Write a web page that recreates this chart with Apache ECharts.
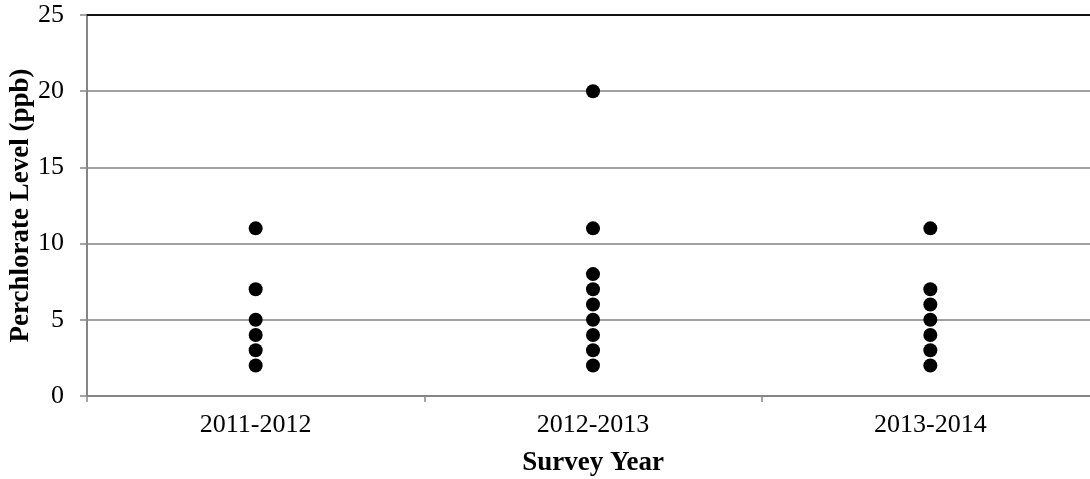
<!DOCTYPE html>
<html>
<head>
<meta charset="utf-8">
<script src="https://cdn.jsdelivr.net/npm/echarts@6/dist/echarts.min.js"></script>
<style>html,body{margin:0;padding:0;background:#fff}#c{width:1090px;height:479px}</style>
</head>
<body>
<div id="c"></div>
<script>
var categories = ['2011-2012', '2012-2013', '2013-2014'];
var values2011 = [2, 3, 4, 5, 7, 11];
var values2012 = [2, 3, 4, 5, 6, 7, 8, 11, 20];
var values2013 = [2, 3, 4, 5, 6, 7, 11];
var yTicks = [0, 5, 10, 15, 20, 25];

var groups = [values2011, values2012, values2013];
var points = [];
groups.forEach(function (arr, i) {
  arr.forEach(function (v) { points.push([categories[i], v]); });
});

var font = 'Liberation Serif, Times New Roman, serif';
var chart = echarts.init(document.getElementById('c'));
chart.setOption({
  animation: false,
  backgroundColor: '#fff',
  grid: { left: 87, top: 15, width: 1012, bottom: 83, containLabel: false, outerBoundsMode: 'none' },
  xAxis: [{
    type: 'category',
    data: categories,
    boundaryGap: true,
    axisLine: { lineStyle: { color: '#868686', width: 2 } },
    axisTick: { show: true, length: 6, lineStyle: { color: '#868686', width: 1.5 } },
    axisLabel: { fontFamily: font, fontSize: 26, color: '#000', margin: 16 },
    name: 'Survey Year',
    nameLocation: 'middle',
    nameGap: 54,
    nameTextStyle: { fontFamily: font, fontSize: 27, fontWeight: 'bold', color: '#000' },
    splitLine: { show: false }
  }, {
    type: 'category',
    data: categories,
    position: 'top',
    axisLine: { lineStyle: { color: '#111', width: 2 } },
    axisTick: { show: false },
    axisLabel: { show: false },
    splitLine: { show: false }
  }],
  yAxis: {
    type: 'value',
    min: yTicks[0],
    max: yTicks[yTicks.length - 1],
    interval: 5,
    axisLine: { show: true, lineStyle: { color: '#868686', width: 2 } },
    axisTick: { show: true, length: 7, lineStyle: { color: '#868686', width: 1.5 } },
    axisLabel: { fontFamily: font, fontSize: 26, color: '#000', margin: 23 },
    splitLine: { show: true, lineStyle: { color: '#a0a0a0', width: 2 } },
    name: 'Perchlorate Level (ppb)',
    nameLocation: 'middle',
    nameGap: 52,
    nameMoveOverlap: false,
    nameTextStyle: { fontFamily: font, fontSize: 27, fontWeight: 'bold', color: '#000' }
  },
  series: [{
    type: 'scatter',
    data: points,
    symbol: 'circle',
    symbolSize: 14,
    itemStyle: { color: '#000', opacity: 1 }
  }]
});
</script>
</body>
</html>
